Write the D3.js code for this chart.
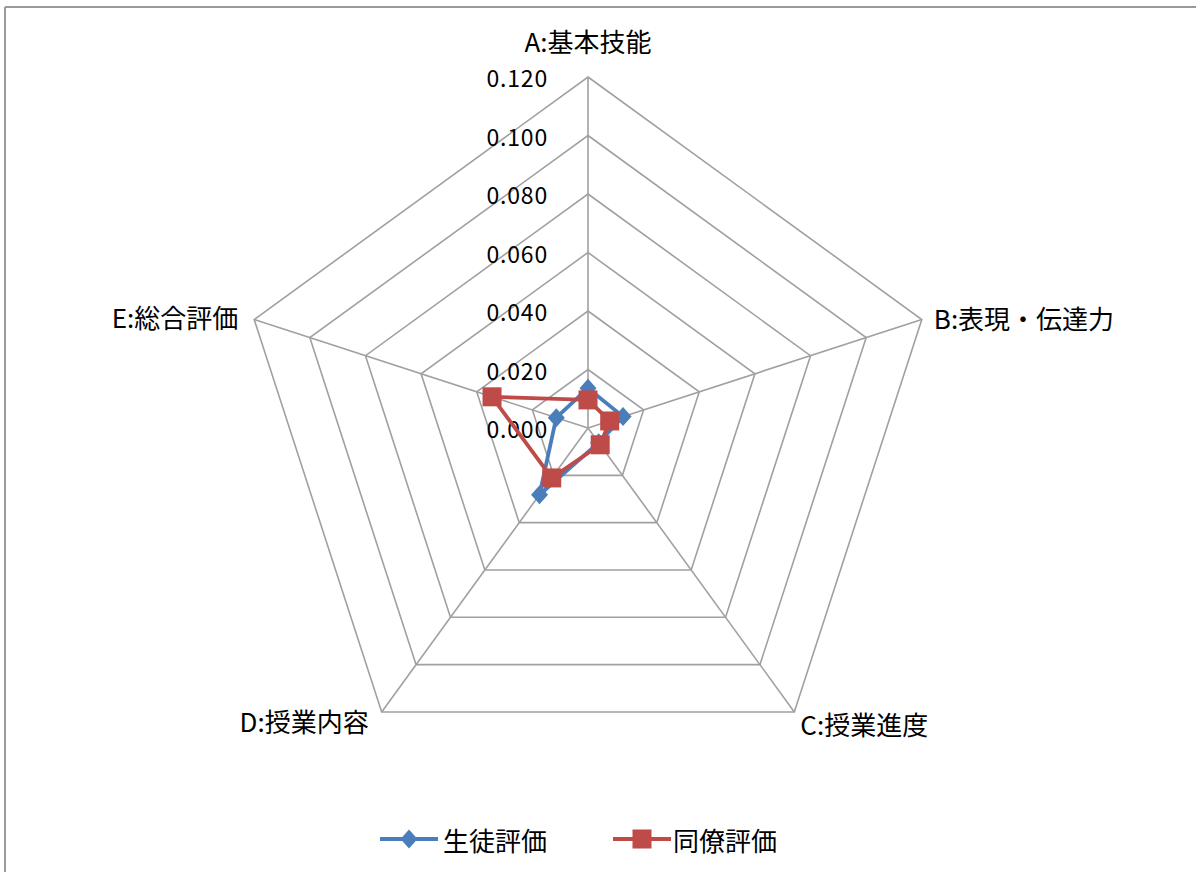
<!DOCTYPE html>
<html>
<head>
<meta charset="utf-8">
<script src="https://cdn.jsdelivr.net/npm/d3@7"></script>
<style>
  html, body { margin: 0; padding: 0; background: #fff; }
  svg { display: block; }
  text { font-family: "Noto Sans CJK JP", "Noto Sans", sans-serif; fill: #000; }
</style>
</head>
<body>
<svg id="chart" width="1196" height="872"></svg>
<script>
const categories = ["A:基本技能", "B:表現・伝達力", "C:授業進度", "D:授業内容", "E:総合評価"];
const seriesNames = ["生徒評価", "同僚評価"];
const studentValues = [0.0136, 0.0126, 0.0062, 0.0282, 0.0114];
const peerValues = [0.0096, 0.0078, 0.0071, 0.0211, 0.0345];
const tickValues = [0, 0.02, 0.04, 0.06, 0.08, 0.10, 0.12];
const tickLabels = ["0.000", "0.020", "0.040", "0.060", "0.080", "0.100", "0.120"];

const colors = ["#4A7EBB", "#BE4B48"];
const svg = d3.select("#chart");
const W = 1196, H = 872;
const cx = 588, cy = 428, R = 351;

// frame
svg.append("line").attr("x1", 5).attr("y1", 7).attr("x2", W).attr("y2", 7)
  .attr("stroke", "#9a9a9a").attr("stroke-width", 2);
svg.append("line").attr("x1", 5).attr("y1", 7).attr("x2", 5).attr("y2", H)
  .attr("stroke", "#9a9a9a").attr("stroke-width", 2);

const r = d3.scaleLinear().domain([0, 0.12]).range([0, R]);
const angle = d3.scaleLinear().domain([0, categories.length]).range([0, 2 * Math.PI]);

function pt(i, v) {
  const a = angle(i);
  return [cx + r(v) * Math.sin(a), cy - r(v) * Math.cos(a)];
}

const g = svg.append("g");

// grid rings
tickValues.filter(t => t > 0).forEach(t => {
  const pts = categories.map((c, i) => pt(i, t));
  g.append("polygon")
    .attr("points", pts.map(p => p.join(",")).join(" "))
    .attr("fill", "none").attr("stroke", "#a0a0a0").attr("stroke-width", 1.6);
});
// spokes
categories.forEach((c, i) => {
  const p = pt(i, 0.12);
  g.append("line").attr("x1", cx).attr("y1", cy).attr("x2", p[0]).attr("y2", p[1])
    .attr("stroke", "#a0a0a0").attr("stroke-width", 1.6);
});

// tick labels
tickValues.forEach((t, k) => {
  g.append("text")
    .attr("x", cx - 40).attr("y", cy - r(t))
    .attr("text-anchor", "end").attr("dominant-baseline", "central")
    .attr("font-size", 23).attr("letter-spacing", 0.8)
    .text(tickLabels[k]);
});

// category labels
const labelPos = [
  { dx: 0, dy: -37, anchor: "middle" },
  { dx: 12, dy: -2, anchor: "start" },
  { dx: 6, dy: 12, anchor: "start" },
  { dx: -13, dy: 9, anchor: "end" },
  { dx: -16, dy: -3, anchor: "end" }
];
categories.forEach((c, i) => {
  const p = pt(i, 0.12);
  g.append("text")
    .attr("x", p[0] + labelPos[i].dx).attr("y", p[1] + labelPos[i].dy)
    .attr("text-anchor", labelPos[i].anchor).attr("dominant-baseline", "central")
    .attr("font-size", 26)
    .text(c);
});

// series
const line = d3.line().curve(d3.curveLinearClosed);
const allSeries = [studentValues, peerValues];

function drawMarker(sel, k, x, y) {
  if (k === 0) {
    sel.append("path")
      .attr("d", "M0,-9.5L8.5,0L0,9.5L-8.5,0Z")
      .attr("transform", `translate(${x},${y})`)
      .attr("fill", colors[0]);
  } else {
    sel.append("rect")
      .attr("x", x - 9.5).attr("y", y - 9.5).attr("width", 19).attr("height", 19)
      .attr("fill", colors[1]);
  }
}

allSeries.forEach((vals, k) => {
  const pts = vals.map((v, i) => pt(i, v));
  g.append("path").attr("d", line(pts))
    .attr("fill", "none").attr("stroke", colors[k]).attr("stroke-width", 3.8)
    .attr("stroke-linejoin", "round");
  pts.forEach(p => drawMarker(g, k, p[0], p[1]));
});

// legend
const legendItems = [
  { x1: 380, x2: 438, tx: 443 },
  { x1: 613, x2: 671, tx: 673 }
];
const ly = 839;
legendItems.forEach((li, k) => {
  svg.append("line").attr("x1", li.x1).attr("x2", li.x2).attr("y1", ly).attr("y2", ly)
    .attr("stroke", colors[k]).attr("stroke-width", 3.8);
  drawMarker(svg, k, (li.x1 + li.x2) / 2, ly);
  svg.append("text").attr("x", li.tx).attr("y", ly)
    .attr("dominant-baseline", "central").attr("font-size", 26)
    .text(seriesNames[k]);
});
</script>
</body>
</html>
